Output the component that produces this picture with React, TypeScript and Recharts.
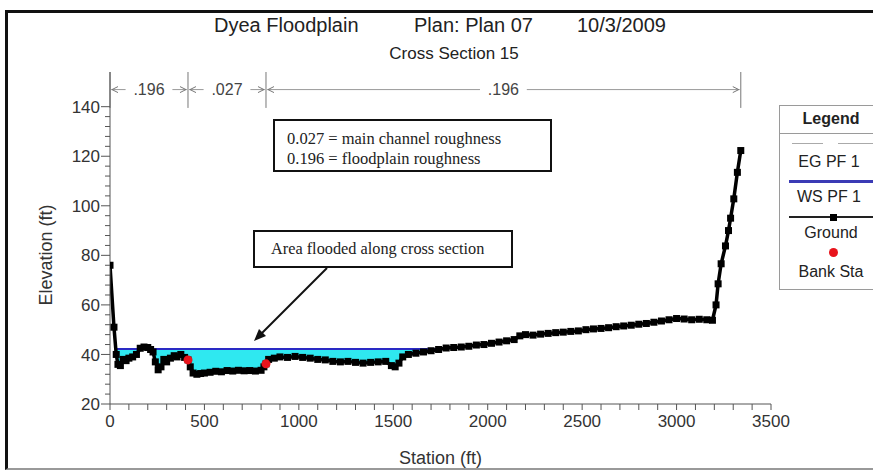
import { ComposedChart, Area, Line, XAxis, YAxis, ReferenceLine } from "recharts";

// ground profile
const stations = [
  0, 21, 33, 42, 55, 70, 85, 100, 120, 140, 160, 180, 200, 215, 228, 240, 255,
  270, 285, 300, 320, 340, 355, 375, 395, 413, 425, 440, 460, 480, 500, 530,
  560, 590, 620, 650, 680, 710, 740, 770, 800, 815, 826, 840, 870, 900, 940,
  980, 1020, 1060, 1100, 1140, 1180, 1220, 1260, 1300, 1340, 1380, 1420, 1460,
  1490, 1510, 1530, 1550, 1580, 1620, 1660, 1700, 1740, 1780, 1820, 1860, 1900,
  1940, 1980, 2020, 2060, 2100, 2140, 2170, 2200, 2240, 2280, 2320, 2360, 2400,
  2440, 2480, 2520, 2560, 2600, 2640, 2680, 2720, 2760, 2800, 2840, 2880, 2920,
  2960, 3000, 3040, 3080, 3120, 3160, 3190, 3209, 3220, 3236, 3259, 3275, 3286,
  3303, 3322, 3340,
];
const groundElev = [
  76, 51, 40, 36, 35.5, 38, 37.5, 38.5, 39, 40, 42.5, 43, 42.8, 42, 41, 37,
  33.8, 35, 38, 37, 38.5, 39.5, 39, 40, 38.8, 37.8, 35, 32.5, 32, 32.3, 32.5,
  32.8, 33.2, 33, 33.5, 33.3, 33.6, 33.4, 33.5, 33.3, 33.6, 35, 36.2, 38, 38.5,
  39, 38.8, 39.2, 38.8, 38.5, 38, 37.8, 37.2, 37, 37.2, 36.8, 36.5, 36.8, 37,
  37.2, 35.5, 35, 36.5, 39, 40, 40.5, 41, 41.5, 42, 42.6, 42.8, 43, 43.3, 43.8,
  44, 44.5, 45, 45.5, 46, 47.5, 48, 47.8, 48.2, 48.5, 48.8, 49, 49.3, 49.5, 50,
  50.3, 50.5, 50.8, 51.2, 51.5, 51.8, 52.2, 52.5, 53, 53.5, 54, 54.5, 54.3, 54,
  54.2, 54, 53.8, 60, 68.5, 76.6, 83.8, 90, 95, 102.8, 113.5, 122.3,
];

// water surface PF 1
const wsElev = 42.2;
const wsFrom = 33;
const wsTo = 1760;

const bankStations = [413, 826];
const bankElev = [37.8, 36.2];

// manning's n breaks along the top
const nBreaks = [0, 413, 826, 3340];
const nLabels = [".196", ".027", ".196"];

const xTicks = Array.from({ length: 36 }, (_, i) => i * 100);
const yTicks = Array.from({ length: 31 }, (_, i) => 20 + i * 4);

const FONT = '"Liberation Sans", Arial, sans-serif';
const SERIF = '"Liberation Serif", "Times New Roman", serif';

const data = stations.map((station, i) => {
  const g = groundElev[i];
  const wet = station >= wsFrom && station <= wsTo;
  const b = bankStations.indexOf(station);
  return {
    station,
    ground: g,
    ws: wet ? wsElev : null,
    water: wet ? [Math.min(g, wsElev), wsElev] : null,
    bank: b >= 0 ? bankElev[b] : null,
  };
});

function XTick(props: any) {
  const { x, y, payload } = props;
  const major = payload.value % 500 === 0;
  return (
    <g>
      <line x1={x} x2={x} y1={y} y2={y + 6} stroke="#555" />
      {major ? (
        <text
          x={x}
          y={y + 10}
          dy="0.75em"
          textAnchor="middle"
          fill="#333"
          fontSize={17}
          fontFamily={FONT}
        >
          {payload.value}
        </text>
      ) : null}
    </g>
  );
}

function YTick(props: any) {
  const { x, y, payload } = props;
  const major = payload.value % 20 === 0;
  return (
    <g>
      <line x1={x - (major ? 9 : 5)} x2={x} y1={y} y2={y} stroke="#555" />
      {major ? (
        <text
          x={x - 10}
          y={y}
          dy="0.36em"
          textAnchor="end"
          fill="#333"
          fontSize={17}
          fontFamily={FONT}
        >
          {payload.value}
        </text>
      ) : null}
    </g>
  );
}

function Span(props: any) {
  const { x1, x2, y1, text } = props;
  const mid = (x1 + x2) / 2;
  const half = text.length * 4.6 + 5;
  return (
    <g>
      <line x1={x1 + 1} x2={mid - half} y1={y1} y2={y1} stroke="#9a9a9a" />
      <line x1={mid + half} x2={x2 - 1} y1={y1} y2={y1} stroke="#9a9a9a" />
      <polyline
        points={`${x1 + 8},${y1 - 3} ${x1 + 2},${y1} ${x1 + 8},${y1 + 3}`}
        fill="none"
        stroke="#777"
      />
      <polyline
        points={`${x2 - 8},${y1 - 3} ${x2 - 2},${y1} ${x2 - 8},${y1 + 3}`}
        fill="none"
        stroke="#777"
      />
      <text
        x={mid}
        y={y1}
        dy="0.36em"
        textAnchor="middle"
        fill="#444"
        fontSize={16}
        fontFamily={FONT}
      >
        {text}
      </text>
    </g>
  );
}

function GroundDot(props: any) {
  const { cx, cy, index } = props;
  if (cx == null || cy == null) return <g key={`g-${index}`} />;
  return <rect key={`g-${index}`} x={cx - 3.5} y={cy - 3.5} width={7} height={7} fill="#000" />;
}

function BankDot(props: any) {
  const { cx, cy, index, payload } = props;
  if (payload?.bank == null || cy == null) return <g key={`b-${index}`} />;
  return <circle key={`b-${index}`} cx={cx} cy={cy} r={4.5} fill="#e8141c" />;
}

const abs = (left: number, top: number, extra: any = {}) => ({
  position: "absolute" as const,
  left,
  top,
  ...extra,
});

export default function App() {
  const spanY = 146.9;
  return (
    <div
      style={{
        position: "fixed",
        left: 0,
        top: 0,
        width: 873,
        height: 470,
        overflow: "hidden",
        background: "#fff",
        fontFamily: FONT,
        color: "#222",
      }}
    >
      <div
        style={abs(5, 10, {
          width: 900,
          height: 455,
          borderTop: "3px solid #111",
          borderLeft: "3px solid #111",
          borderBottom: "2px solid #999",
        })}
      />

      <div style={abs(0, 0)}>
        <ComposedChart
          width={873}
          height={470}
          data={data}
          margin={{ top: 72, right: 102, bottom: 6, left: 30 }}
        >
          <XAxis
            type="number"
            dataKey="station"
            domain={[0, 3500]}
            ticks={xTicks}
            interval={0}
            allowDataOverflow
            tickLine={false}
            tickSize={0}
            tickMargin={0}
            axisLine={{ stroke: "#555" }}
            tick={<XTick />}
            height={60}
            label={{
              value: "Station (ft)",
              position: "insideBottom",
              offset: 0,
              fill: "#333",
              fontSize: 18,
              fontFamily: FONT,
            }}
          />
          <YAxis
            type="number"
            domain={[20, 154]}
            ticks={yTicks}
            interval={0}
            allowDataOverflow
            tickLine={false}
            tickSize={0}
            tickMargin={0}
            axisLine={{ stroke: "#555" }}
            tick={<YTick />}
            width={80}
          />
          <Area
            type="linear"
            dataKey="water"
            stroke="none"
            fill="#2fe8f0"
            fillOpacity={1}
            isAnimationActive={false}
          />
          <Line
            type="linear"
            dataKey="ws"
            stroke="#2a2ac4"
            strokeWidth={2.2}
            dot={false}
            isAnimationActive={false}
          />
          <Line
            type="linear"
            dataKey="ground"
            stroke="#000"
            strokeWidth={3.5}
            dot={GroundDot}
            isAnimationActive={false}
          />
          <Line
            type="linear"
            dataKey="bank"
            stroke="none"
            dot={BankDot}
            isAnimationActive={false}
          />
          {nBreaks.map((s) => (
            <ReferenceLine
              key={`nb-${s}`}
              segment={[
                { x: s, y: 139.5 },
                { x: s, y: 154 },
              ]}
              stroke="#777"
            />
          ))}
          {nLabels.map((t, i) => (
            <ReferenceLine
              key={`ns-${i}`}
              segment={[
                { x: nBreaks[i], y: spanY },
                { x: nBreaks[i + 1], y: spanY },
              ]}
              shape={(p: any) => <Span {...p} text={t} />}
            />
          ))}
        </ComposedChart>
      </div>

      <svg
        width={873}
        height={470}
        style={abs(0, 0, { pointerEvents: "none" })}
      >
        <text
          transform="translate(46,255) rotate(-90)"
          textAnchor="middle"
          dy="0.36em"
          fill="#333"
          fontSize={18}
          fontFamily={FONT}
        >
          Elevation (ft)
        </text>
        <line x1={327} y1={268} x2={261} y2={334} stroke="#111" strokeWidth={2} />
        <polygon points="254,341 266,336 259,329" fill="#111" />
      </svg>

      {/* titles */}
      <div style={abs(214, 15, { fontSize: 20, lineHeight: "20px", whiteSpace: "nowrap" })}>
        Dyea Floodplain
      </div>
      <div style={abs(414, 15, { fontSize: 20, lineHeight: "20px", whiteSpace: "nowrap" })}>
        Plan: Plan 07
      </div>
      <div style={abs(577, 15, { fontSize: 20, lineHeight: "20px", whiteSpace: "nowrap" })}>
        10/3/2009
      </div>
      <div
        style={abs(354, 45, {
          width: 200,
          textAlign: "center",
          fontSize: 17,
          lineHeight: "17px",
        })}
      >
        Cross Section 15
      </div>

      {/* annotation boxes */}
      <div
        style={abs(273, 119, {
          width: 279,
          height: 53,
          border: "2.5px solid #111",
          fontFamily: SERIF,
          fontSize: 16.5,
          lineHeight: "20px",
          padding: "8px 0 0 12px",
          boxSizing: "border-box",
          background: "#fff",
        })}
      >
        <div>0.027 = main channel roughness</div>
        <div>0.196 = floodplain roughness</div>
      </div>
      <div
        style={abs(253, 230, {
          width: 260,
          height: 38,
          border: "2.5px solid #111",
          fontFamily: SERIF,
          fontSize: 16.3,
          lineHeight: "33px",
          paddingLeft: 16,
          boxSizing: "border-box",
          background: "#fff",
        })}
      >
        Area flooded along cross section
      </div>

      {/* legend */}
      <div
        style={abs(779, 105, {
          width: 120,
          height: 185,
          border: "1px solid #9a9a9a",
          boxSizing: "border-box",
          background: "#fff",
        })}
      />
      <div style={abs(779, 110, { width: 104, textAlign: "center", fontWeight: "bold", fontSize: 16, lineHeight: "18px" })}>
        Legend
      </div>
      <div style={abs(779, 133, { width: 100, height: 1, background: "#9a9a9a" })} />
      <div style={abs(792, 143, { width: 31, height: 1, background: "#aaa" })} />
      <div style={abs(838, 143, { width: 35, height: 1, background: "#aaa" })} />
      <div style={abs(779, 153, { width: 100, textAlign: "center", fontSize: 16, lineHeight: "18px" })}>
        EG PF 1
      </div>
      <div style={abs(789, 180, { width: 90, height: 3, background: "#3b3bb5" })} />
      <div style={abs(779, 188, { width: 100, textAlign: "center", fontSize: 16, lineHeight: "18px" })}>
        WS PF 1
      </div>
      <div style={abs(789, 216, { width: 90, height: 2, background: "#222" })} />
      <div style={abs(830, 214, { width: 7, height: 7, background: "#000" })} />
      <div style={abs(779, 224, { width: 104, textAlign: "center", fontSize: 16, lineHeight: "18px" })}>
        Ground
      </div>
      <div
        style={abs(829, 248, { width: 9, height: 9, borderRadius: "50%", background: "#e8141c" })}
      />
      <div style={abs(779, 263, { width: 104, textAlign: "center", fontSize: 16, lineHeight: "18px" })}>
        Bank Sta
      </div>
    </div>
  );
}
